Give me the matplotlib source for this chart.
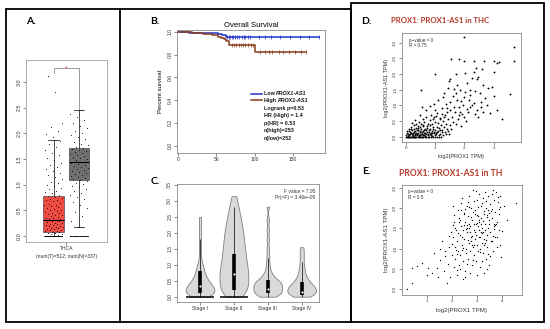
import numpy as np
import matplotlib
matplotlib.use("Agg")
import matplotlib.pyplot as plt
from matplotlib.patches import Rectangle
from matplotlib.lines import Line2D

# ======================= DATA =======================
# ---- Panel A: PROX1-AS1 expression, THCA tumour (T) vs normal (N)
a_tumor_values = [
    0, 0, 0, 0, 0, 0, 0, 0, 0, 0, 0, 0, 0, 0, 0, 0, 0, 0, 0, 0,
    0, 0, 0, 0, 0, 0, 0, 0, 0, 0, 0, 0, 0, 0, 0, 0, 0, 0, 0, 0,
    0.02, 0.03, 0.04, 0.05, 0.06, 0.07, 0.08, 0.09, 0.10, 0.11,
    0.12, 0.13, 0.14, 0.15, 0.16, 0.17, 0.18, 0.19, 0.20, 0.21,
    0.22, 0.23, 0.24, 0.25, 0.26, 0.27, 0.28, 0.29, 0.30, 0.31,
    0.32, 0.33, 0.34, 0.35, 0.37, 0.38, 0.40, 0.41, 0.42, 0.44,
    0.45, 0.47, 0.48, 0.50, 0.51, 0.53, 0.55, 0.56, 0.58, 0.60,
    0.61, 0.63, 0.65, 0.67, 0.69, 0.70, 0.72, 0.74, 0.76, 0.78,
    0.80, 0.83, 0.86, 0.88, 0.91, 0.94, 0.97, 1.00, 1.03, 1.06,
    1.10, 1.14, 1.18, 1.22, 1.26, 1.30, 1.34, 1.38, 1.42, 1.47,
    1.52, 1.57, 1.62, 1.68, 1.73, 1.79, 1.85, 1.92, 1.98, 2.05,
    2.12, 2.20, 2.80, 3.12]
a_normal_values = [
    0, 0, 0, 0, 0, 0, 0, 0, 0, 0, 0, 0, 0, 0, 0, 0, 0, 0, 0, 0,
    0, 0, 0, 0, 0,
    0.17, 0.28, 0.38, 0.46, 0.55, 0.60, 0.66, 0.72, 0.76, 0.80,
    0.84, 0.88, 0.92, 0.95, 0.98, 1.01, 1.04, 1.07, 1.09, 1.11,
    1.13, 1.15, 1.17, 1.19, 1.21, 1.23, 1.25, 1.27, 1.29, 1.31,
    1.33, 1.35, 1.37, 1.39, 1.41, 1.43, 1.45, 1.47, 1.49, 1.51,
    1.53, 1.55, 1.57, 1.59, 1.61, 1.63, 1.65, 1.67, 1.69, 1.71,
    1.74, 1.77, 1.80, 1.84, 1.88, 1.92, 1.96, 2.00, 2.05, 2.10,
    2.15, 2.20, 2.26, 2.32, 2.38, 2.45]
a_box_q1 = [0.08, 1.08]
a_box_median = [0.31, 1.44]
a_box_q3 = [0.78, 1.72]
a_box_whislo = [0.0, 0.17]
a_box_whishi = [1.86, 2.45]
a_box_colors = ["#EE4B43", "#6F6F6F"]
a_yticks = [0.0, 0.5, 1.0, 1.5, 2.0, 2.5, 3.0]
a_cancer = "THCA"
a_counts = "(num(T)=512; num(N)=337)"
a_signif = "*"

# ---- Panel B: Overall survival (Kaplan-Meier)
b_low_times = [0, 5, 15, 35, 52, 58, 63, 183]
b_low_surv = [1.0, 0.996, 0.992, 0.988, 0.98, 0.97, 0.952, 0.952]
b_high_times = [0, 8, 18, 25, 33, 36, 45, 52, 56, 60, 63, 66, 101, 167]
b_high_surv = [1.0, 0.996, 0.992, 0.988, 0.984, 0.976, 0.968, 0.956,
               0.944, 0.932, 0.92, 0.886, 0.825, 0.825]
b_low_censor = [64, 66, 68, 70, 72, 75, 77, 80, 83, 86, 88, 91, 94,
                106, 113, 121, 133, 146, 159, 170, 183]
b_high_censor = [70, 73, 76, 79, 82, 85, 88, 91, 95, 98, 107, 113, 118,
                 123, 131, 137, 144, 152, 160, 167]
b_xticks = [0, 50, 100, 150]
b_yticks = [0.0, 0.2, 0.4, 0.6, 0.8, 1.0]
b_stats = ["Logrank p=0.53", "HR (High) = 1.4", "p(HR) = 0.53",
           "n(high)=253", "n(low)=252"]

# ---- Panel C: expression by pathological stage (violin)
c_stages = ["Stage I", "Stage II", "Stage III", "Stage IV"]
c_stage1 = [0, 0.01, 0.02, 0.04, 0.05, 0.06, 0.08, 0.09, 0.1, 0.11, 0.12,
            0.14, 0.15, 0.16, 0.18, 0.19, 0.2, 0.21, 0.22, 0.24, 0.25, 0.26,
            0.28, 0.29, 0.3, 0.32, 0.33, 0.35, 0.36, 0.38, 0.4, 0.42, 0.44,
            0.46, 0.48, 0.5, 0.52, 0.55, 0.58, 0.61, 0.64, 0.68, 0.72, 0.76,
            0.8, 0.85, 0.9, 0.96, 1.03, 1.12, 1.3, 1.5, 1.7, 1.9, 2.1, 2.3,
            2.5]
c_stage2 = [0, 0.05, 0.1, 0.15, 0.2, 0.25, 0.3, 0.35, 0.4, 0.45, 0.5, 0.55,
            0.6, 0.65, 0.7, 0.75, 0.8, 0.85, 0.9, 0.95, 1.0, 1.06, 1.12,
            1.18, 1.24, 1.3, 1.36, 1.42, 1.48, 1.55, 1.62, 1.69, 1.76, 1.83,
            1.9, 1.97, 2.05, 2.13, 2.21, 2.3, 2.4, 2.5, 2.62, 2.75, 2.9,
            3.15]
c_stage3 = [0, 0.02, 0.04, 0.06, 0.08, 0.1, 0.12, 0.14, 0.16, 0.18, 0.2,
            0.22, 0.24, 0.26, 0.28, 0.3, 0.32, 0.34, 0.36, 0.38, 0.4, 0.42,
            0.44, 0.46, 0.48, 0.5, 0.52, 0.55, 0.6, 0.65, 0.7, 0.78, 0.9,
            1.05, 1.25, 1.5, 1.8, 2.1, 2.4, 2.82]
c_stage4 = [0, 0.02, 0.04, 0.06, 0.08, 0.1, 0.12, 0.14, 0.16, 0.18, 0.2,
            0.22, 0.24, 0.26, 0.28, 0.3, 0.32, 0.34, 0.37, 0.4, 0.43, 0.46,
            0.5, 0.55, 0.6, 0.67, 0.75, 0.85, 0.95, 1.1, 1.25, 1.4, 1.55]
c_q1 = [0.10, 0.20, 0.10, 0.05]
c_median = [0.33, 0.70, 0.25, 0.15]
c_q3 = [0.80, 1.35, 0.52, 0.47]
c_whishi = [1.80, 2.80, 1.20, 1.10]
c_zero_bar = [True, True, False, False]
c_yticks = [0.0, 0.5, 1.0, 1.5, 2.0, 2.5, 3.0, 3.5]
c_fvalue = "F value = 7.95"
c_pvalue = "Pr(>F) = 3.46e\u221205"

# ---- Panel D: PROX1 vs PROX1-AS1 correlation in THC
d_x = [0.00, 0.03, 0.06, 0.09, 0.12, 0.15, 0.18, 0.21, 0.24, 0.27,
       0.30, 0.33, 0.36, 0.40, 0.44, 0.48, 0.52, 0.56, 0.60, 0.65,
       0.70, 0.75, 0.80, 0.86, 0.92, 0.98, 1.05, 1.12, 1.20,
       0.02, 0.08, 0.12, 0.15, 0.20, 0.22, 0.26, 0.30, 0.32, 0.35,
       0.38, 0.42, 0.45, 0.48, 0.50, 0.53, 0.55, 0.58, 0.62, 0.64,
       0.67, 0.70, 0.73, 0.76, 0.80, 0.83, 0.86, 0.90, 0.94, 0.97,
       1.00, 1.04, 1.08, 1.12, 1.16, 1.22, 1.28, 1.33, 0.10, 0.18,
       0.28, 0.40, 0.60, 0.05, 0.25, 0.44, 0.66, 0.88, 1.40, 1.48,
       0.04, 0.07, 0.11, 0.14, 0.17, 0.19, 0.23, 0.27, 0.29, 0.31,
       0.34, 0.37, 0.39, 0.41, 0.43, 0.47, 0.49, 0.51, 0.54, 0.57,
       0.59, 0.61, 0.63, 0.68, 0.71, 0.74, 0.77, 0.79, 0.81, 0.84,
       0.87, 0.89, 0.93, 0.96, 0.99, 1.02, 1.06, 1.09, 1.14, 1.18,
       1.24, 1.30, 1.36, 1.44, 1.55,
       0.22, 0.30, 0.36, 0.45, 0.52, 0.58, 0.63, 0.70, 0.75, 0.82,
       0.88, 0.92, 0.98, 1.03, 1.10, 1.15, 1.20, 1.26, 1.32, 1.38,
       1.45, 1.52, 1.60, 1.70, 1.78, 0.48, 0.85, 1.25, 1.90, 2.05,
       0.95, 1.05, 1.18, 1.35, 1.42, 1.56, 1.68, 1.82, 1.93, 2.12,
       2.25, 2.48, 2.58, 1.62, 1.88, 2.18, 1.36, 1.72, 2.70, 2.95,
       0.54, 0.83, 1.00, 1.23, 1.51, 1.86, 2.08, 2.42, 2.65, 2.88,
       1.11, 1.28, 1.51, 1.74, 2.14, 2.31, 2.76, 3.10, 3.27, 1.97,
       1.40, 1.65, 1.95, 2.20, 2.55, 0.95, 1.80, 2.35, 0.70, 2.00,
       0.51, 1.45, 1.63, 1.86, 2.02, 2.20, 2.37, 2.54, 3.00, 3.56,
       1.46, 1.52, 2.25, 2.42, 2.45, 1.01, 1.72, 2.02, 2.34, 1.75,
       2.10, 2.65, 1.30, 2.80,
       2.40, 1.54, 1.81, 2.00, 2.31, 2.67, 3.01, 3.10, 3.18, 3.68,
       1.97, 3.70, 2.60, 3.00]
d_y = [0.00, 0.00, 0.00, 0.00, 0.00, 0.00, 0.00, 0.00, 0.00, 0.00,
       0.00, 0.00, 0.00, 0.00, 0.00, 0.00, 0.00, 0.00, 0.00, 0.00,
       0.00, 0.00, 0.00, 0.00, 0.00, 0.00, 0.00, 0.00, 0.00,
       0.05, 0.10, 0.04, 0.15, 0.08, 0.22, 0.12, 0.05, 0.18, 0.28,
       0.10, 0.20, 0.06, 0.14, 0.30, 0.24, 0.09, 0.17, 0.04, 0.26,
       0.12, 0.20, 0.33, 0.08, 0.15, 0.25, 0.05, 0.18, 0.30, 0.11,
       0.22, 0.07, 0.16, 0.28, 0.10, 0.20, 0.06, 0.14, 0.25, 0.32,
       0.36, 0.34, 0.38, 0.18, 0.02, 0.03, 0.02, 0.13, 0.24, 0.10,
       0.12, 0.03, 0.19, 0.07, 0.26, 0.11, 0.06, 0.16, 0.24, 0.09,
       0.13, 0.05, 0.21, 0.12, 0.27, 0.04, 0.19, 0.10, 0.15, 0.33,
       0.06, 0.21, 0.12, 0.08, 0.27, 0.14, 0.04, 0.20, 0.10, 0.36,
       0.13, 0.03, 0.24, 0.16, 0.06, 0.12, 0.31, 0.18, 0.04, 0.22,
       0.14, 0.30, 0.09, 0.18, 0.26,
       0.45, 0.52, 0.42, 0.48, 0.40, 0.55, 0.46, 0.62, 0.42, 0.52,
       0.40, 0.58, 0.46, 0.66, 0.44, 0.55, 0.38, 0.50, 0.62, 0.42,
       0.55, 0.36, 0.48, 0.42, 0.58, 0.68, 0.70, 0.72, 0.35, 0.50,
       0.62, 0.75, 0.60, 0.68, 0.92, 0.64, 0.80, 0.95, 0.72, 0.78,
       1.00, 0.62, 0.95, 1.30, 1.15, 1.32, 1.05, 1.40, 1.25, 1.60,
       0.96, 0.98, 0.85, 0.91, 0.85, 0.80, 0.87, 0.85, 0.80, 0.75,
       1.17, 1.28, 1.12, 1.17, 1.17, 1.06, 1.01, 0.85, 0.55, 1.28,
       0.78, 0.95, 1.02, 0.95, 1.10, 1.05, 0.70, 0.72, 0.85, 0.62,
       1.49, 1.54, 1.51, 1.49, 1.44, 1.49, 1.47, 1.39, 1.30, 1.35,
       1.77, 1.83, 1.87, 1.83, 1.92, 2.00, 2.00, 2.04, 2.07, 1.65,
       1.70, 1.65, 1.40, 1.55,
       2.20, 2.49, 2.47, 2.41, 2.41, 2.41, 2.41, 2.36, 2.39, 2.41,
       3.17, 2.85, 2.15, 2.05]
d_xticks = [0, 1, 2, 3]
d_yticks = [0.0, 0.5, 1.0, 1.5, 2.0, 2.5, 3.0]
d_title = "PROX1: PROX1-AS1 in THC"
d_stats = ["p\u2212value = 0", "R = 0.75"]

# ---- Panel E: PROX1 vs PROX1-AS1 correlation in TH
e_x = [0.20, 0.43, 0.40, 0.60, 0.80, 1.00, 1.05, 1.30, 1.40, 1.45,
       1.55, 1.60, 1.70, 1.75, 1.80, 1.85, 1.90, 1.95, 1.55, 1.20,
       2.02, 2.05, 2.08, 2.10, 2.12, 2.15, 2.18, 2.20, 2.22, 2.25,
       2.28, 2.30, 2.05, 2.25,
       2.32, 2.35, 2.38, 2.40, 2.42, 2.45, 2.48, 2.50, 2.52, 2.55,
       2.58, 2.60, 2.36, 2.44, 2.56, 2.47,
       2.62, 2.64, 2.66, 2.68, 2.70, 2.72, 2.74, 2.76, 2.78, 2.80,
       2.82, 2.84, 2.86, 2.88, 2.90, 2.65, 2.75, 2.85, 2.69, 2.79,
       2.92, 2.94, 2.96, 2.98, 3.00, 3.02, 3.04, 3.06, 3.08, 3.10,
       3.12, 3.14, 3.16, 3.18, 3.20, 2.95, 3.05, 3.15, 3.00, 3.10,
       3.22, 3.24, 3.26, 3.28, 3.30, 3.32, 3.34, 3.36, 3.38, 3.40,
       3.42, 3.44, 3.46, 3.48, 3.50, 3.25, 3.35, 3.45, 3.30,
       3.52, 3.55, 3.58, 3.60, 3.62, 3.65, 3.68, 3.70, 3.72, 3.75,
       3.78, 3.80, 3.82, 3.85, 3.88, 3.90, 3.95, 4.00, 3.92, 3.65,
       4.10, 4.56, 4.20, 3.98, 2.55, 2.35, 3.20, 3.40, 2.90, 2.60,
       2.03, 2.13, 2.23, 2.33, 2.43, 2.53, 2.63, 2.73, 2.83, 2.93,
       3.03, 3.13, 3.23, 3.33, 3.43, 3.53, 3.63, 3.73, 3.83, 3.93,
       2.07, 2.17, 2.27, 2.37, 2.47, 2.57, 2.67, 2.77, 2.87, 2.97,
       3.07, 3.17, 3.27, 3.37, 3.47, 3.57, 3.67, 3.77, 3.87, 2.11,
       2.31, 2.51, 2.71, 2.91, 3.11, 3.31, 3.51, 3.71, 2.41, 2.61,
       2.81, 3.01, 3.21, 3.41, 3.61, 2.21, 2.99, 3.19, 3.39, 1.98,
       1.72, 1.88, 2.48, 2.68, 2.88, 3.08, 3.28, 3.48, 3.68, 3.88]
e_y = [0.02, 0.15, 0.52, 0.58, 0.66, 0.35, 0.52, 0.90, 0.52, 0.30,
       0.72, 1.20, 0.45, 0.95, 0.15, 0.62, 1.05, 0.30, 1.00, 0.40,
       0.85, 1.30, 0.55, 1.65, 1.05, 0.75, 1.45, 0.35, 1.20, 0.95,
       1.75, 0.60, 2.05, 1.95,
       1.35, 0.85, 1.55, 1.10, 2.25, 0.70, 1.85, 1.25, 0.45, 1.65,
       1.00, 2.05, 1.95, 1.45, 0.90, 0.25,
       1.40, 0.75, 1.80, 1.15, 2.30, 0.95, 1.55, 1.30, 2.00, 0.60,
       1.70, 1.05, 2.45, 1.45, 0.85, 2.15, 0.40, 1.90, 1.62, 1.20,
       1.25, 1.95, 0.70, 1.60, 2.20, 1.10, 1.80, 0.95, 1.45, 2.35,
       1.30, 0.55, 1.75, 2.05, 1.15, 1.40, 1.55, 1.00, 0.35, 1.65,
       1.50, 2.25, 0.90, 1.85, 1.25, 2.40, 1.60, 0.75, 2.00, 1.35,
       1.05, 1.95, 2.30, 1.70, 0.60, 1.40, 1.15, 1.50, 0.40,
       1.40, 2.10, 1.20, 2.35, 1.75, 0.95, 1.55, 2.20, 1.30, 1.90,
       2.40, 1.05, 1.65, 2.15, 1.45, 1.85, 2.30, 1.44, 1.10, 2.45,
       2.05, 2.12, 1.70, 0.80, 0.30, 0.50, 0.70, 0.50, 1.10, 1.50,
       1.12, 1.52, 0.88, 1.72, 1.28, 1.98, 0.62, 1.42, 1.08, 1.86,
       1.64, 0.92, 2.12, 1.46, 1.82, 0.82, 1.98, 1.58, 1.28, 2.02,
       1.58, 0.98, 1.38, 2.12, 1.02, 1.48, 1.22, 1.78, 0.72, 1.34,
       2.02, 1.42, 1.68, 1.22, 0.88, 1.92, 1.32, 1.62, 2.28, 1.82,
       1.66, 1.88, 1.52, 2.18, 1.72, 1.92, 1.62, 1.48, 0.98, 1.58,
       1.32, 1.82, 1.38, 1.78, 1.18, 0.48, 2.42, 1.62, 2.18, 1.42,
       0.82, 1.32, 1.58, 2.02, 1.62, 1.28, 1.08, 1.88, 1.62, 1.98]
e_xticks = [1, 2, 3, 4]
e_yticks = [0.0, 0.5, 1.0, 1.5, 2.0, 2.5]
e_title = "PROX1: PROX1-AS1 in TH"
e_stats = ["p\u2212value = 0", "R = 0.5"]
xlabel_de = "log2(PROX1 TPM)"
ylabel_de = "log2(PROX1-AS1 TPM)"

# ======================= LAYOUT =======================
W, H = 550, 329
fig = plt.figure(figsize=(5.5, 3.29), dpi=100)
fig.patch.set_facecolor("white")
PLOT_FONT = ["Liberation Sans", "DejaVu Sans"]
HEAD_FONT = ["Lato", "DejaVu Sans"]
plt.rcParams["font.family"] = PLOT_FONT


def ax_px(x0, y0, x1, y1):
    return fig.add_axes([x0 / W, 1 - y1 / H, (x1 - x0) / W, (y1 - y0) / H])


def ftext(x, y, s, **kw):
    return fig.text(x / W, 1 - y / H, s, **kw)


def style(ax, fs=3.6, spine="#8a8a8a"):
    for sp in ax.spines.values():
        sp.set_color(spine)
        sp.set_linewidth(0.6)
    ax.tick_params(axis="both", length=2.0, width=0.5, color="#555555",
                   labelsize=fs, labelcolor="#333333", pad=1.2)


def yt(ax, ticks, fmt="{:.1f}"):
    ax.set_yticks(ticks)
    ax.set_yticklabels([fmt.format(t) for t in ticks], rotation=90, va="center")


def frame(x0, y0, x1, y1, lw=1.3):
    fig.add_artist(Rectangle((x0 / W, 1 - y1 / H), (x1 - x0) / W, (y1 - y0) / H,
                             fill=False, lw=lw, ec="black",
                             transform=fig.transFigure, zorder=10))


frame(6, 9, 351, 322)
frame(351, 3, 544, 322)
fig.add_artist(Line2D([120 / W, 120 / W], [1 - 9 / H, 1 - 322 / H], lw=1.3,
                      color="black", transform=fig.transFigure, zorder=10))

for lab, (x, y) in {"A.": (26, 21), "B.": (150, 21), "C.": (151, 182),
                    "D.": (361, 21), "E.": (362, 171)}.items():
    ftext(x, y, lab, fontsize=7.5, fontweight="bold", family=HEAD_FONT,
          va="center", ha="left")

# ---------------- Panel A ----------------
axA = ax_px(26, 60, 107, 242)
style(axA, fs=3.9, spine="#a0a0a0")
stats = []
for i in range(2):
    stats.append(dict(med=a_box_median[i], q1=a_box_q1[i], q3=a_box_q3[i],
                      whislo=a_box_whislo[i], whishi=a_box_whishi[i], fliers=[]))
bp = axA.bxp(stats, positions=[1, 2], widths=0.82, patch_artist=True,
             showfliers=False,
             medianprops=dict(color="black", lw=0.8),
             whiskerprops=dict(color="black", lw=0.5),
             capprops=dict(color="black", lw=0.5),
             boxprops=dict(lw=0.4, edgecolor="#333333"))
for patch, col in zip(bp["boxes"], a_box_colors):
    patch.set_facecolor(col)
for pos, vals in [(1, a_tumor_values), (2, a_normal_values)]:
    vals = np.asarray(vals, float)
    idx = np.arange(len(vals))
    jit = ((idx * 0.6180339) % 1.0 - 0.5) * 0.72
    axA.scatter(pos + jit, vals, s=0.5, c="black", alpha=0.75, lw=0, zorder=3)
axA.set_xlim(-0.08, 3.1)
axA.set_ylim(-0.12, 3.43)
yt(axA, a_yticks)
axA.set_xticks([1.5])
axA.set_xticklabels([a_cancer + "\n" + a_counts], fontsize=3.6, linespacing=1.6)
axA.plot([1, 1, 2, 2], [3.18, 3.27, 3.27, 2.47], color="#8c8c8c", lw=0.6)
axA.text(1.5, 3.25, a_signif, color="#e03030", fontsize=5, ha="center", va="center")

# ---------------- Panel B ----------------
axB = ax_px(177, 30, 325, 153)
style(axB, fs=3.6, spine="#8a8a8a")
low_col, high_col = "#2233c8", "#8a3c1c"
for times, surv, cens, col in [(b_low_times, b_low_surv, b_low_censor, low_col),
                               (b_high_times, b_high_surv, b_high_censor, high_col)]:
    axB.step(times, surv, where="post", color=col, lw=1.1)
    t = np.asarray(times)
    s = np.asarray(surv)
    cy = s[np.searchsorted(t, cens, side="right") - 1]
    axB.scatter(cens, cy, marker="|", s=6, c=col, lw=0.5)
axB.set_xlim(-0.9, 191.3)
axB.set_ylim(-0.064, 1.015)
axB.set_xticks(b_xticks)
yt(axB, b_yticks)
axB.set_ylabel("Percent survival", fontsize=4.3, labelpad=3)
axB.set_title("Overall Survival", fontsize=5.6, pad=2.5)


def b_ax(xpx, ypx):
    return ((xpx - 177) / (325 - 177), 1 - (ypx - 30) / (153 - 30))


for ypx, col, name in [(94, low_col, "Low "), (100.5, high_col, "High ")]:
    x0, y0 = b_ax(251, ypx)
    x1, _ = b_ax(262, ypx)
    axB.plot([x0, x1], [y0, y0], color=col, lw=1.1, transform=axB.transAxes)
    tx, ty = b_ax(264, ypx)
    t1 = axB.text(tx, ty, name, transform=axB.transAxes, fontsize=3.9,
                  fontweight="bold", va="center", ha="left", color="#1a1a1a")
    axB.annotate("PROX1-AS1", xy=(1, 0.5), xycoords=t1, fontsize=3.9,
                 fontweight="bold", style="italic", va="center", ha="left",
                 color="#1a1a1a")
for k, s in enumerate(b_stats):
    tx, ty = b_ax(264, 108.5 + 7.5 * k)
    axB.text(tx, ty, s, transform=axB.transAxes, fontsize=3.9,
             fontweight="bold", va="center", ha="left", color="#1a1a1a")

# ---------------- Panel C ----------------
axC = ax_px(176.7, 184, 319, 301.7)
style(axC, fs=3.6, spine="#8a8a8a")
positions = [1, 2, 3, 4]
c_bandwidth = [0.12, 0.22, 0.10, 0.10]
for i, (p, data) in enumerate(zip(positions, [c_stage1, c_stage2, c_stage3, c_stage4])):
    factor = c_bandwidth[i] / np.std(data, ddof=1)
    vp = axC.violinplot([data], positions=[p], widths=0.85, showextrema=False,
                        bw_method=factor)
    for body in vp["bodies"]:
        body.set_facecolor("#d9d9d9")
        body.set_edgecolor("#7f7f7f")
        body.set_linewidth(0.6)
        body.set_alpha(1)
for i, p in enumerate(positions):
    axC.vlines(p, 0, c_whishi[i], color="black", lw=0.5, zorder=3)
    axC.vlines(p, c_q1[i], c_q3[i], color="black", lw=2.6, zorder=4)
    axC.scatter([p], [c_median[i]], s=2.5, c="white", lw=0, zorder=5)
    if c_zero_bar[i]:
        axC.hlines(0, p - 0.42, p + 0.42, color="black", lw=1.1, zorder=4)
axC.set_xlim(0.313, 4.51)
axC.set_ylim(-0.157, 3.53)
axC.set_xticks(positions)
axC.set_xticklabels(c_stages, fontsize=3.6)
yt(axC, c_yticks)
axC.text(0.975, 0.955, c_fvalue + "\n" + c_pvalue, transform=axC.transAxes,
         fontsize=3.5, ha="right", va="top", linespacing=1.2, color="#333333")

# ---------------- Panel D ----------------
axD = ax_px(401.7, 33.3, 520.7, 141.7)
style(axD, fs=3.2, spine="#8a8a8a")
axD.scatter(d_x, d_y, s=1.8, c="black", lw=0)
axD.set_xlim(-0.14, 3.92)
axD.set_ylim(-0.16, 3.30)
axD.set_xticks(d_xticks)
yt(axD, d_yticks)
axD.set_xlabel(xlabel_de, fontsize=4.0, labelpad=3, color="#333333")
axD.set_ylabel(ylabel_de, fontsize=4.0, labelpad=3, color="#333333")
axD.text(0.06, 0.96, d_stats[0] + "\n" + d_stats[1], transform=axD.transAxes,
         fontsize=3.3, ha="left", va="top", linespacing=1.1, color="#333333")
ftext(440.5, 20.5, d_title, fontsize=5.6, fontweight="bold", family=HEAD_FONT,
      color="#b5392a", ha="center", va="center")

# ---------------- Panel E ----------------
axE = ax_px(401.7, 185, 521.7, 295)
style(axE, fs=3.2, spine="#8a8a8a")
axE.scatter(e_x, e_y, s=0.9, c="black", lw=0)
axE.set_xlim(0.0, 4.8)
axE.set_ylim(-0.14, 2.57)
axE.set_xticks(e_xticks)
yt(axE, e_yticks)
axE.set_xlabel(xlabel_de, fontsize=4.4, labelpad=3, color="#333333")
axE.set_ylabel(ylabel_de, fontsize=4.4, labelpad=3, color="#333333")
axE.text(0.05, 0.96, e_stats[0] + "\n" + e_stats[1], transform=axE.transAxes,
         fontsize=3.4, ha="left", va="top", linespacing=1.1, color="#333333")
ftext(451, 174, e_title, fontsize=6.2, fontweight="bold", family=HEAD_FONT,
      color="#b5392a", ha="center", va="center")

fig.savefig("out.png", dpi=100)
